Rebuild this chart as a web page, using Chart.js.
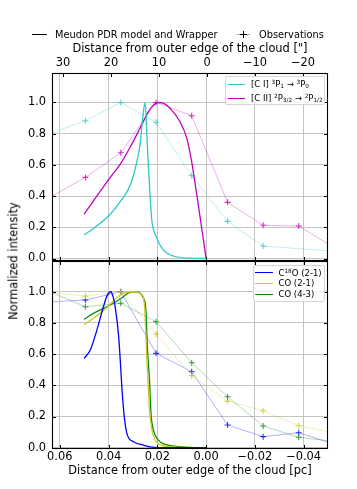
<!DOCTYPE html>
<html>
<head>
<meta charset="utf-8">
<script src="https://cdn.jsdelivr.net/npm/chart.js@4.4.0/dist/chart.umd.min.js"></script>
<style>
  body { margin: 0; background: #fff; }
  #fig { position: relative; width: 357px; height: 489px; overflow: hidden; font-family: 'DejaVu Sans', sans-serif; color: #000; }
  .cwrap { position: absolute; left: 0; }
  .lbl { position: absolute; white-space: nowrap; line-height: 1; }
  .hl { position: absolute; height: 0; }
  .legbox { position: absolute; background: rgba(255,255,255,0.85); border: 1px solid #d6d6d6; border-radius: 2px; box-sizing: border-box; }
  sup, sub { font-size: 68%; line-height: 0; }
  sup { vertical-align: 0.45em; }
  sub { vertical-align: -0.2em; }
</style>
</head>
<body>
<div id="fig">
  <div class="cwrap" style="top:0;width:357px;height:270px"><canvas id="chartTop" width="357" height="270"></canvas></div>
  <div class="cwrap" style="top:255px;width:357px;height:234px"><canvas id="chartBot" width="357" height="234"></canvas></div>

  <!-- leyenda general -->
  <div class="hl" style="left:32px;top:34px;width:15px;border-top:1.3px solid #000"></div>
  <div class="lbl" style="left:55px;top:29.5px;font-size:9.8px">Meudon PDR model and Wrapper</div>
  <div class="hl" style="left:237px;top:34px;width:13px;border-top:1px solid rgba(0,0,0,0.35)"></div>
  <div class="hl" style="left:240px;top:34px;width:7px;border-top:1px solid #000"></div>
  <div style="position:absolute;left:243px;top:31px;width:0;height:7px;border-left:1px solid #000"></div>
  <div class="lbl" style="left:259px;top:29.5px;font-size:9.8px">Observations</div>

  <div class="lbl" style="left:14px;top:261px;font-size:11.4px;transform:translate(-50%,-50%) rotate(-90deg)">Normalized intensity</div>

  <!-- leyenda panel superior -->
  <div class="legbox" style="left:225px;top:76px;width:100px;height:28.5px"></div>
  <div class="hl" style="left:227.5px;top:83.8px;width:17.5px;border-top:1.6px solid #2ec8c8"></div>
  <div class="lbl" style="left:251px;top:80px;font-size:8.5px">[C I] <sup>3</sup>P<sub>1</sub> → <sup>3</sup>P<sub>0</sub></div>
  <div class="hl" style="left:227.5px;top:97.8px;width:17.5px;border-top:1.6px solid #bf00bf"></div>
  <div class="lbl" style="left:251px;top:94px;font-size:8.5px">[C II] <sup>2</sup>P<sub>3/2</sub> → <sup>2</sup>P<sub>1/2</sub></div>

  <!-- leyenda panel inferior -->
  <div class="legbox" style="left:253px;top:265px;width:72px;height:37px"></div>
  <div class="hl" style="left:255px;top:272px;width:18px;border-top:1.6px solid #0000ff"></div>
  <div class="lbl" style="left:278.5px;top:268.5px;font-size:8.5px">C<sup>18</sup>O (2-1)</div>
  <div class="hl" style="left:255px;top:282.8px;width:18px;border-top:1.6px solid #c8c820"></div>
  <div class="lbl" style="left:278.5px;top:279.3px;font-size:8.5px">CO (2-1)</div>
  <div class="hl" style="left:255px;top:293.6px;width:18px;border-top:1.6px solid #118811"></div>
  <div class="lbl" style="left:278.5px;top:290px;font-size:8.5px">CO (4-3)</div>
</div>

<script>
// Posiciones de los haces observados [pc]
const obsDist = [0.0641, 0.0495, 0.0350, 0.0205, 0.0059, -0.0088, -0.0234, -0.0380, -0.0526];
const obsCI   = [0.80, 0.883, 1.0, 0.873, 0.531, 0.238, 0.080, null, 0.047];
const obsCII  = [0.392, 0.52, 0.678, 1.0, 0.915, 0.36, 0.213, 0.208, 0.068];
const obsC18O = [0.935, 0.947, 1.0, 0.605, 0.487, 0.146, 0.071, 0.096, 0.022];
const obsCO21 = [0.996, 0.972, 1.0, 0.729, 0.462, 0.299, 0.237, 0.141, 0.095];
const obsCO43 = [1.0, 0.904, 0.926, 0.808, 0.545, 0.327, 0.139, 0.067, 0.040];

// Modelo Meudon PDR
const modCIDist = [0.0500, 0.0462, 0.0396, 0.0352, 0.0311, 0.0284, 0.0271, 0.0264, 0.0260, 0.0250, 0.0243, 0.0237, 0.0230, 0.0223, 0.0202, 0.0175, 0.0134, 0.0066, 0.0];
const modCI     = [0.151, 0.193, 0.279, 0.364, 0.471, 0.62, 0.728, 0.834, 0.9, 1.0, 0.8, 0.6, 0.41, 0.25, 0.13, 0.054, 0.016, 0.002, 0.0];
const modCIIDist = [0.0500, 0.0462, 0.0396, 0.0352, 0.0311, 0.0271, 0.0237, 0.0221, 0.0196, 0.0168, 0.0148, 0.0107, 0.0079, 0.0059, 0.0038, 0.0018, 0.0];
const modCII     = [0.285, 0.369, 0.514, 0.605, 0.715, 0.835, 0.94, 0.975, 1.0, 0.99, 0.963, 0.877, 0.77, 0.62, 0.407, 0.194, 0.0];
const modC18ODist = [0.0500, 0.0475, 0.0448, 0.0421, 0.0406, 0.0391, 0.0381, 0.0373, 0.0359, 0.0352, 0.0346, 0.0337, 0.0325, 0.0298, 0.0257, 0.0230, 0.0189, 0.0];
const modC18O     = [0.573, 0.626, 0.754, 0.904, 0.975, 1.0, 0.965, 0.904, 0.72, 0.56, 0.4, 0.22, 0.092, 0.038, 0.017, 0.006, 0.001, 0.0];
const modCO21Dist = [0.0500, 0.0462, 0.0421, 0.0402, 0.0381, 0.0361, 0.0332, 0.0303, 0.0279, 0.0266, 0.0258, 0.0252, 0.0249, 0.0244, 0.0238, 0.0232, 0.0223, 0.0209, 0.0181, 0.0127, 0.0];
const modCO21     = [0.79, 0.83, 0.88, 0.905, 0.94, 0.97, 0.993, 1.0, 0.995, 0.985, 0.97, 0.9, 0.8, 0.6, 0.42, 0.24, 0.12, 0.05, 0.015, 0.004, 0.0];
const modCO43Dist = [0.0500, 0.0462, 0.0421, 0.0380, 0.0339, 0.0320, 0.0298, 0.0279, 0.0266, 0.0257, 0.0250, 0.0246, 0.0241, 0.0232, 0.0226, 0.0216, 0.0196, 0.0168, 0.0120, 0.0066, 0.0];
const modCO43     = [0.823, 0.861, 0.893, 0.926, 0.968, 0.99, 1.0, 0.998, 0.985, 0.96, 0.93, 0.86, 0.647, 0.434, 0.22, 0.113, 0.049, 0.022, 0.008, 0.002, 0.0];

const colCI = '#2ec8c8', colCII = '#bf00bf', colC18O = '#0000ff', colCO21 = '#c8c820', colCO43 = '#118811';

Chart.defaults.font.family = 'DejaVu Sans';
Chart.defaults.font.size = 11.4;
Chart.defaults.color = '#000';

const gridColor = '#c4c4c4';
const minus = v => (v < 0 ? '\u2212' : '') + Math.abs(v);

function pares(xs, ys) {
    return xs.map((x, i) => ({ x: x, y: ys[i] }));
}

function hexA(hex, a) {
    const n = parseInt(hex.slice(1), 16);
    return `rgba(${n >> 16}, ${(n >> 8) & 255}, ${n & 255}, ${a})`;
}

function modelo(xs, ys, color) {
    return {
        data: pares(xs, ys),
        borderColor: color,
        borderWidth: 1.3,
        pointRadius: 0,
        cubicInterpolationMode: 'monotone',
        fill: false
    };
}

function observ(ys, color) {
    return {
        data: pares(obsDist, ys),
        borderColor: hexA(color, 0.35),
        borderWidth: 0.9,
        pointStyle: 'cross',
        pointRadius: 3,
        pointBorderWidth: 1.1,
        pointBorderColor: hexA(color, 0.8),
        tension: 0,
        spanGaps: true,
        fill: false
    };
}

// Marco y marcas hacia dentro en los cuatro lados
const marcoTicks = {
    id: 'marcoTicks',
    afterDatasetsDraw(chart, args, opts) {
        const { ctx, chartArea: a, scales } = chart;
        const len = 3.5;
        const L = Math.round(a.left) + 0.5, R = Math.round(a.right) - 0.5;
        const T = Math.round(a.top) + 0.5, B = Math.round(a.bottom) - 0.5;
        ctx.save();
        ctx.strokeStyle = '#000';
        ctx.lineWidth = 1;
        ctx.beginPath();
        scales.x.ticks.forEach(t => {
            const px = Math.round(scales.x.getPixelForValue(t.value)) + 0.5;
            ctx.moveTo(px, B); ctx.lineTo(px, B - len);
            if (!opts.topScale) { ctx.moveTo(px, T); ctx.lineTo(px, T + len); }
        });
        if (opts.topScale) {
            const s = scales[opts.topScale];
            s.ticks.forEach(t => {
                const px = Math.round(s.getPixelForValue(t.value)) + 0.5;
                ctx.moveTo(px, T); ctx.lineTo(px, T + len);
            });
        }
        scales.y.ticks.forEach(t => {
            const py = Math.round(scales.y.getPixelForValue(t.value)) + 0.5;
            ctx.moveTo(L, py); ctx.lineTo(L + len, py);
            ctx.moveTo(R, py); ctx.lineTo(R - len, py);
        });
        ctx.stroke();
        ctx.lineWidth = 1.1;
        ctx.strokeRect(L, T, R - L, B - T);
        ctx.restore();
    }
};

const ejeY = (min, max) => ({
    min: min, max: max,
    ticks: { stepSize: 0.2, includeBounds: false, padding: 6, callback: v => v.toFixed(1) },
    grid: { color: gridColor, lineWidth: 1, drawTicks: false },
    border: { display: false },
    afterFit: s => { s.width = 52; s.paddingTop = 0; s.paddingBottom = 0; }
});

const ejeX = (conEtiquetas) => ({
    type: 'linear', position: 'bottom', reverse: true,
    min: -0.05, max: 0.0632,
    ticks: {
        display: conEtiquetas, stepSize: 0.02, includeBounds: false, padding: 2,
        callback: v => Math.abs(v) < 1e-9 ? '0.00' : (v < 0 ? '\u2212' : '') + Math.abs(v).toFixed(2)
    },
    grid: { color: gridColor, lineWidth: 1, drawTicks: false },
    border: { display: false },
    title: {
        display: conEtiquetas,
        text: 'Distance from outer edge of the cloud [pc]',
        padding: { top: 0, bottom: 11 }
    },
    afterFit: s => { s.height = conEtiquetas ? 40.5 : 1; s.paddingLeft = 0; s.paddingRight = 0; }
});

const opcionesBase = {
    responsive: false,
    animation: false,
    events: [],
    plugins: { legend: { display: false }, tooltip: { enabled: false } }
};

// Panel superior: [C I] y [C II]
new Chart(document.getElementById('chartTop'), {
    type: 'line',
    data: {
        datasets: [
            modelo(modCIDist, modCI, colCI),
            modelo(modCIIDist, modCII, colCII),
            observ(obsCII, colCII),
            observ(obsCI, colCI)
        ]
    },
    options: {
        ...opcionesBase,
        layout: { padding: { left: 0, right: 29, top: 0, bottom: 8 } },
        plugins: { ...opcionesBase.plugins, marcoTicks: { topScale: 'x2' } },
        scales: {
            x: ejeX(false),
            x2: {
                type: 'linear', position: 'top', reverse: true,
                min: -25.2, max: 32.3,
                ticks: { stepSize: 10, includeBounds: false, padding: 3, callback: v => minus(Math.round(v)) },
                grid: { display: false, drawTicks: false },
                border: { display: false },
                title: { display: true, text: 'Distance from outer edge of the cloud ["]', padding: { top: 42, bottom: 0 } },
                afterFit: s => { s.height = 72.7; s.paddingLeft = 0; s.paddingRight = 0; }
            },
            y: ejeY(-0.016, 1.191)
        }
    },
    plugins: [marcoTicks]
});

// Panel inferior: C18O y CO (las observaciones de CO quedan encima)
new Chart(document.getElementById('chartBot'), {
    type: 'line',
    data: {
        datasets: [
            modelo(modC18ODist, modC18O, colC18O),
            modelo(modCO21Dist, modCO21, colCO21),
            modelo(modCO43Dist, modCO43, colCO43),
            observ(obsCO43, colCO43),
            observ(obsCO21, colCO21),
            observ(obsC18O, colC18O)
        ]
    },
    options: {
        ...opcionesBase,
        layout: { padding: { left: 0, right: 29, top: 6, bottom: 0 } },
        plugins: { ...opcionesBase.plugins, marcoTicks: {} },
        scales: {
            x: ejeX(true),
            y: ejeY(-0.005, 1.197)
        }
    },
    plugins: [marcoTicks]
});
</script>
</body>
</html>
